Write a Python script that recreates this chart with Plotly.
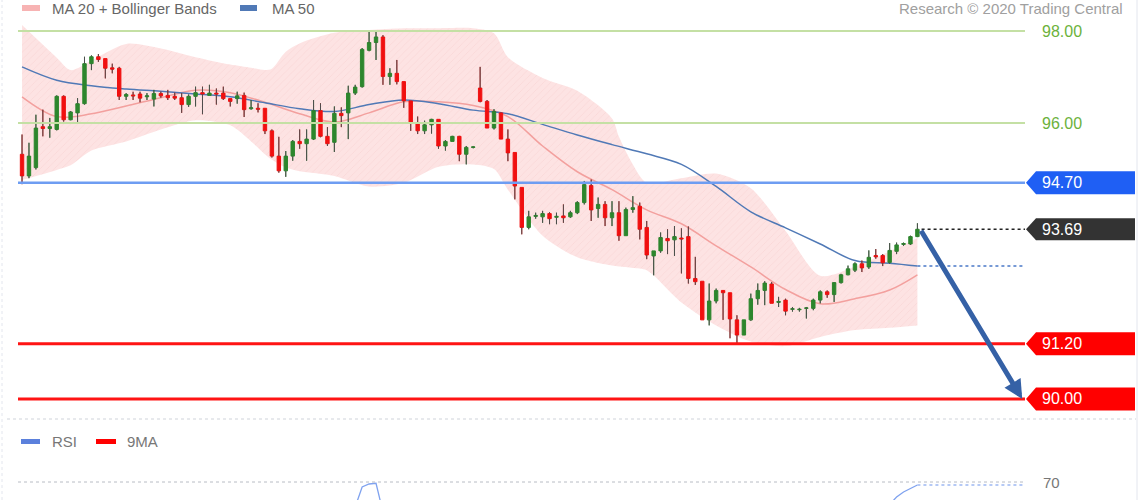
import plotly.graph_objects as go

# ---------------- data ----------------
opens = [95.32, 94.85, 95.03, 95.92, 95.88, 95.86, 96.58, 96.07, 96.22, 96.42,
         97.29, 97.44, 97.40, 97.20, 97.19, 96.58, 96.61, 96.63, 96.57, 96.52,
         96.64, 96.60, 96.58, 96.55, 96.40, 96.58, 96.66, 96.60, 96.65, 96.65,
         96.53, 96.53, 96.60, 96.31, 96.32, 96.32, 95.83, 95.28, 94.96, 95.28,
         95.60, 95.55, 95.65, 96.27, 95.71, 95.58, 96.21, 96.22, 96.65, 96.79,
         97.58, 97.75, 97.87, 97.01, 97.08, 96.90, 96.48, 96.00, 95.83, 95.96,
         96.08, 95.50, 95.60, 95.71, 95.32, 95.47, 96.76, 96.47, 95.89, 96.22,
         95.65, 95.36, 94.60, 93.73, 93.97, 93.96, 94.03, 93.95, 93.98, 93.96,
         94.05, 94.27, 94.64, 94.14, 94.23, 93.94, 94.05, 93.55, 94.12, 94.19,
         93.73, 93.11, 93.22, 93.49, 93.46, 93.50, 93.53, 92.62, 92.56, 91.72,
         92.13, 92.36, 92.31, 91.72, 91.39, 91.72, 92.18, 92.36, 92.50, 92.10,
         92.15, 91.95, 91.94, 91.97, 91.97, 92.15, 92.33, 92.27, 92.53, 92.70,
         92.80, 92.94, 92.87, 93.12, 93.12, 92.97, 93.21, 93.36, 93.37, 93.53]
highs = [95.75, 95.57, 96.18, 96.29, 96.11, 96.60, 96.60, 96.26, 96.54, 97.44,
         97.47, 97.50, 97.40, 97.29, 97.22, 96.65, 96.68, 96.68, 96.65, 96.72,
         96.68, 96.72, 96.66, 96.65, 96.62, 96.79, 96.79, 96.83, 96.75, 96.79,
         96.53, 96.68, 96.66, 96.50, 96.43, 96.32, 95.86, 95.70, 95.39, 95.63,
         95.86, 95.86, 96.50, 96.43, 95.91, 96.36, 96.34, 96.81, 96.83, 97.63,
         98.00, 98.00, 97.91, 97.19, 97.37, 96.90, 96.48, 96.14, 96.05, 96.09,
         96.08, 95.63, 95.72, 95.72, 95.50, 95.49, 97.22, 96.50, 96.30, 96.23,
         95.86, 95.36, 94.60, 94.09, 94.05, 94.09, 94.06, 94.05, 94.23, 94.09,
         94.30, 94.74, 94.77, 94.38, 94.30, 94.30, 94.30, 94.16, 94.41, 94.27,
         93.87, 93.22, 93.62, 93.69, 93.76, 93.71, 93.75, 93.09, 92.56, 92.51,
         92.40, 92.36, 92.31, 91.82, 91.72, 92.29, 92.51, 92.56, 92.54, 92.22,
         92.18, 92.00, 91.98, 92.00, 92.18, 92.36, 92.36, 92.54, 92.72, 92.90,
         92.97, 93.01, 93.23, 93.26, 93.15, 93.39, 93.40, 93.40, 93.55, 93.82]
lows = [94.67, 94.80, 94.99, 95.71, 95.68, 95.84, 96.03, 96.06, 96.02, 96.40,
        97.15, 97.33, 96.97, 97.08, 96.50, 96.50, 96.50, 96.45, 96.50, 96.36,
        96.55, 96.50, 96.50, 96.22, 96.35, 96.36, 96.19, 96.60, 96.40, 96.50,
        96.36, 96.42, 96.13, 96.29, 96.23, 95.76, 95.25, 94.92, 94.83, 95.18,
        95.44, 95.18, 95.63, 95.69, 95.50, 95.37, 95.91, 95.65, 96.61, 96.77,
        97.56, 97.37, 96.83, 96.83, 96.84, 96.33, 95.83, 95.76, 95.76, 95.77,
        95.44, 95.40, 95.60, 95.17, 95.10, 95.45, 96.45, 95.89, 95.86, 95.65,
        95.17, 94.34, 93.58, 93.69, 93.92, 93.83, 93.80, 93.80, 93.83, 93.94,
        94.02, 94.23, 93.87, 93.94, 93.76, 93.76, 93.44, 93.55, 94.05, 93.47,
        93.04, 92.69, 93.18, 93.15, 93.11, 92.73, 92.51, 92.48, 91.72, 91.60,
        92.08, 91.72, 91.32, 91.21, 91.39, 91.70, 92.05, 92.04, 92.08, 92.00,
        91.82, 91.90, 91.90, 91.75, 91.93, 92.08, 92.20, 92.11, 92.51, 92.69,
        92.76, 92.76, 92.83, 93.05, 92.89, 92.94, 93.15, 93.33, 93.35, 93.52]
closes = [94.85, 95.28, 95.89, 95.88, 95.92, 96.58, 96.07, 96.24, 96.42, 97.29,
          97.44, 97.38, 97.19, 97.17, 96.58, 96.62, 96.59, 96.54, 96.59, 96.64,
          96.59, 96.55, 96.54, 96.40, 96.58, 96.66, 96.63, 96.65, 96.63, 96.53,
          96.47, 96.59, 96.29, 96.33, 96.30, 95.83, 95.28, 94.96, 95.28, 95.60,
          95.55, 95.65, 96.27, 95.71, 95.55, 96.21, 96.16, 96.65, 96.78, 97.60,
          97.75, 97.87, 97.01, 97.08, 96.90, 96.48, 96.00, 95.83, 95.96, 96.08,
          95.50, 95.60, 95.71, 95.32, 95.47, 95.48, 96.47, 95.89, 96.25, 95.65,
          95.35, 94.63, 93.73, 93.96, 93.99, 94.03, 93.92, 93.97, 93.94, 94.05,
          94.27, 94.66, 94.11, 94.23, 93.94, 94.05, 93.55, 94.12, 94.16, 93.69,
          93.13, 93.22, 93.51, 93.44, 93.53, 93.48, 92.62, 92.55, 91.72, 92.13,
          92.36, 92.31, 91.74, 91.39, 91.72, 92.18, 92.36, 92.52, 92.08, 92.12,
          91.91, 91.96, 91.95, 91.98, 92.15, 92.33, 92.27, 92.53, 92.70, 92.83,
          92.94, 92.85, 93.08, 93.09, 92.96, 93.23, 93.35, 93.38, 93.53, 93.69]
candle_idx = list(range(len(closes)))

ma20_idx = [0, 5, 10, 15, 20, 25, 30, 35, 40, 45, 50, 55, 60, 65, 70, 75, 80,
            85, 90, 95, 100, 105, 110, 115, 120, 125, 129]
ma20 = [96.57, 96.14, 96.20, 96.37, 96.55, 96.71, 96.66, 96.45, 96.20, 96.02,
        96.22, 96.46, 96.46, 96.38, 96.14, 95.50, 94.94, 94.55, 94.11, 93.81,
        93.33, 92.87, 92.38, 92.07, 92.18, 92.37, 92.70]
ma50_idx = ma20_idx
ma50 = [97.22, 96.93, 96.81, 96.74, 96.69, 96.63, 96.57, 96.44, 96.31, 96.25,
        96.40, 96.50, 96.42, 96.28, 96.20, 95.97, 95.74, 95.53, 95.33, 95.10,
        94.62, 94.07, 93.72, 93.37, 93.01, 92.95, 92.89]

bb_idx = [0, 5, 7, 10, 15, 20, 25, 30, 33, 35, 36, 38, 40, 45, 50, 55, 60, 65,
          68, 70, 75, 80, 85, 86, 88, 90, 95, 100, 105, 110, 115, 120, 125, 129]
bb_upper = [98.13, 97.42, 97.15, 97.36, 97.72, 97.62, 97.43, 97.27, 97.20, 97.15,
            97.18, 97.55, 97.73, 97.96, 98.02, 98.06, 98.06, 98.06, 97.95, 97.43,
            96.98, 96.70, 96.10, 95.70, 95.10, 94.70, 94.80, 94.90, 94.58, 93.65,
            92.68, 92.88, 93.21, 93.50]
bb_lower = [94.76, 94.98, 95.08, 95.40, 95.60, 95.86, 96.06, 95.95, 95.60, 95.32,
            95.20, 95.03, 94.95, 94.85, 94.62, 94.70, 95.05, 95.10, 95.00, 94.55,
            93.55, 93.08, 92.90, 92.88, 92.85, 92.80, 92.10, 91.60, 91.25, 91.15,
            91.35, 91.50, 91.55, 91.60]

rsi_idx = [47, 48, 49, 50, 51, 52, 53, None, 124, 125, 126, 127, 128, 129]
rsi_val = [55.0, 60.0, 68.0, 69.2, 69.5, 58.0, 57.0, None, 58.0, 61.0, 64.0, 66.0, 67.5, 68.8]
rsi_level = 70

level_values = [98.00, 96.00, 94.70, 91.20, 90.00]
level_kinds = ["minor", "minor", "pivot", "target", "target"]

# ---------------- styling ----------------
FONT = "Liberation Sans, Arial, sans-serif"
X0, X1 = -0.58, 144.5
PRICE_RANGE = [89.565, 98.674]
RSI_RANGE = [62.8, 90.8]
W, H, ML, MR = 1140, 500, 18, 115
PW = W - ML - MR


def px_x(p):
    return (p - ML) / PW


def px_y(p):
    return (H - p) / H


kind_style = {
    "minor": dict(line="#c4e0a4", width=2, box=None, text="#6cb23c"),
    "pivot": dict(line="#6e9df2", width=2.5, box="#1f5ff4", text="white"),
    "target": dict(line="#ff1414", width=3, box="#ff0000", text="white"),
}

fig = go.Figure()

# Bollinger band (upper edge, then lower edge filled up to it)
fig.add_trace(go.Scatter(x=bb_idx, y=bb_upper, mode="lines", line_shape="spline",
                         line=dict(width=0, smoothing=0.8), hoverinfo="skip",
                         xaxis="x", yaxis="y"))
fig.add_trace(go.Scatter(x=bb_idx, y=bb_lower, mode="lines", line_shape="spline",
                         line=dict(width=0, smoothing=0.8), hoverinfo="skip",
                         fill="tonexty", fillcolor="rgba(250,170,170,0.32)",
                         fillpattern=dict(shape="/", bgcolor="rgba(250,170,170,0.32)",
                                          fgcolor="rgba(235,150,150,0.35)", size=5,
                                          solidity=0.12),
                         xaxis="x", yaxis="y"))
# MA lines
fig.add_trace(go.Scatter(x=ma20_idx, y=ma20, mode="lines", line_shape="spline",
                         line=dict(color="#f3a09e", width=1.5), xaxis="x", yaxis="y"))
fig.add_trace(go.Scatter(x=ma50_idx, y=ma50, mode="lines", line_shape="spline",
                         line=dict(color="#5079b6", width=1.5), xaxis="x", yaxis="y"))

# candles on overlaid axis so they sit above the band
fig.add_trace(go.Candlestick(
    x=candle_idx, open=opens, high=highs, low=lows, close=closes,
    increasing=dict(fillcolor="#2d862d", line=dict(color="#2d862d", width=1)),
    decreasing=dict(fillcolor="#f01010", line=dict(color="#f01010", width=1)),
    xaxis="x", yaxis="y2", hoverinfo="skip"))

wx, wy = [], []
for i, o, h, l, c in zip(candle_idx, opens, highs, lows, closes):
    top, bot = max(o, c), min(o, c)
    wx += [i, i, None, i, i, None]
    wy += [h, top, None, bot, l, None]
fig.add_trace(go.Scatter(x=wx, y=wy, mode="lines", line=dict(color="#4d4d4d", width=1),
                         xaxis="x", yaxis="y2", hoverinfo="skip"))

last_i = candle_idx[-1]
last_close = closes[-1]
# dotted extensions
fig.add_trace(go.Scatter(x=[last_i + 0.6, X1], y=[last_close, last_close], mode="lines",
                         line=dict(color="#222222", width=1.5, dash="dot"),
                         xaxis="x", yaxis="y2"))
fig.add_trace(go.Scatter(x=[ma50_idx[-1], X1], y=[ma50[-1], ma50[-1]], mode="lines",
                         line=dict(color="#4a78c8", width=1.5, dash="dot"),
                         xaxis="x", yaxis="y2"))

# RSI panel
fig.add_trace(go.Scatter(x=rsi_idx, y=rsi_val, mode="lines",
                         line=dict(color="#7fa2ef", width=1.3), connectgaps=False,
                         xaxis="x2", yaxis="y3"))
fig.add_trace(go.Scatter(x=[rsi_idx[-1], X1], y=[rsi_val[-1], rsi_val[-1]], mode="lines",
                         line=dict(color="#9db8f2", width=1.5, dash="dot"),
                         xaxis="x2", yaxis="y3"))

shapes = []
annotations = []
for v, k in zip(level_values, level_kinds):
    st = kind_style[k]
    shapes.append(dict(type="line", xref="paper", yref="y", x0=0, x1=1, y0=v, y1=v,
                       line=dict(color=st["line"], width=st["width"])))
    annotations.append(dict(xref="paper", yref="y", x=px_x(1040), y=v, text=f"{v:.2f}",
                            showarrow=False, xanchor="left", yanchor="middle",
                            font=dict(family=FONT, size=16, color=st["text"])))
    if st["box"]:
        shapes.append(dict(type="path", xref="paper", yref="y", layer="above",
                           path=(f"M{px_x(1026)},{v} L{px_x(1036)},{v + 0.25} "
                                 f"L{px_x(1135)},{v + 0.25} L{px_x(1135)},{v - 0.25} "
                                 f"L{px_x(1036)},{v - 0.25} Z"),
                           fillcolor=st["box"], line=dict(width=0)))

# last price box
shapes.append(dict(type="path", xref="paper", yref="y", layer="above",
                   path=(f"M{px_x(1026)},{last_close} L{px_x(1036)},{last_close + 0.24} "
                         f"L{px_x(1135)},{last_close + 0.24} L{px_x(1135)},{last_close - 0.24} "
                         f"L{px_x(1036)},{last_close - 0.24} Z"),
                   fillcolor="#333333", line=dict(width=0)))
annotations.append(dict(xref="paper", yref="y", x=px_x(1040), y=last_close,
                        text=f"{last_close:.2f}", showarrow=False, xanchor="left",
                        yanchor="middle", font=dict(family=FONT, size=16, color="white")))

# forecast arrow
annotations.append(dict(xref="x", yref="y", axref="x", ayref="y",
                        x=X1 - 0.4, y=level_values[-1], ax=last_i + 0.4, ay=last_close,
                        text="", showarrow=True, arrowhead=2, arrowsize=0.75,
                        arrowwidth=5, arrowcolor="#3561a6"))

# panel separator, borders
shapes.append(dict(type="line", xref="paper", yref="paper", x0=px_x(7), x1=px_x(1136),
                   y0=px_y(419), y1=px_y(419), line=dict(color="#cfd3da", width=1, dash="dot")))
shapes.append(dict(type="line", xref="paper", yref="paper", x0=px_x(2), x1=px_x(2),
                   y0=0, y1=1, line=dict(color="#e3e6ee", width=1, dash="dot")))
shapes.append(dict(type="line", xref="paper", yref="paper", x0=px_x(1137), x1=px_x(1137),
                   y0=0, y1=1, line=dict(color="#e3e6ee", width=1)))
# RSI 70 line
shapes.append(dict(type="line", xref="paper", yref="y3", x0=0, x1=1, y0=rsi_level,
                   y1=rsi_level, line=dict(color="#b8bcc4", width=1, dash="dot")))
annotations.append(dict(xref="paper", yref="y3", x=px_x(1041), y=rsi_level, text=str(rsi_level),
                        showarrow=False, xanchor="left", yanchor="middle",
                        font=dict(family=FONT, size=15, color="#777777")))

# top legend and credit (kept fully inside the frame)
TOP_Y = px_y(8)
shapes.append(dict(type="rect", xref="paper", yref="paper", x0=px_x(22), x1=px_x(40),
                   y0=px_y(11), y1=px_y(5), fillcolor="#f7b3b3", line=dict(width=0)))
shapes.append(dict(type="rect", xref="paper", yref="paper", x0=px_x(240), x1=px_x(257),
                   y0=px_y(11), y1=px_y(5), fillcolor="#5079b6", line=dict(width=0)))
annotations.append(dict(xref="paper", yref="paper", x=px_x(50), y=TOP_Y,
                        text="MA 20 + Bollinger Bands", showarrow=False, xanchor="left",
                        yanchor="middle", font=dict(family=FONT, size=15, color="#666666")))
annotations.append(dict(xref="paper", yref="paper", x=px_x(270), y=TOP_Y,
                        text="MA 50", showarrow=False, xanchor="left",
                        yanchor="middle", font=dict(family=FONT, size=15, color="#666666")))
annotations.append(dict(xref="paper", yref="paper", x=px_x(1125), y=TOP_Y,
                        text="Research © 2020 Trading Central", showarrow=False,
                        xanchor="right", yanchor="middle",
                        font=dict(family=FONT, size=15, color="#a0a0a0")))

# RSI legend
shapes.append(dict(type="rect", xref="paper", yref="paper", x0=px_x(21), x1=px_x(40),
                   y0=px_y(444), y1=px_y(439), fillcolor="#5b80dc", line=dict(width=0)))
shapes.append(dict(type="rect", xref="paper", yref="paper", x0=px_x(96), x1=px_x(116),
                   y0=px_y(444), y1=px_y(439), fillcolor="#ff0000", line=dict(width=0)))
annotations.append(dict(xref="paper", yref="paper", x=px_x(50), y=px_y(441.5), text="RSI",
                        showarrow=False, xanchor="left", yanchor="middle",
                        font=dict(family=FONT, size=15, color="#777777")))
annotations.append(dict(xref="paper", yref="paper", x=px_x(125), y=px_y(441.5), text="9MA",
                        showarrow=False, xanchor="left", yanchor="middle",
                        font=dict(family=FONT, size=15, color="#777777")))

fig.update_layout(
    width=W, height=H, margin=dict(l=ML, r=MR, t=0, b=0, pad=0),
    paper_bgcolor="white", plot_bgcolor="white", showlegend=False, hovermode=False,
    xaxis=dict(domain=[0, 1], range=[X0, X1], visible=False, anchor="y",
               rangeslider=dict(visible=False)),
    yaxis=dict(domain=[px_y(419), 1], range=PRICE_RANGE, visible=False, anchor="x"),
    yaxis2=dict(overlaying="y", range=PRICE_RANGE, visible=False, anchor="x"),
    xaxis2=dict(domain=[0, 1], range=[X0, X1], visible=False, anchor="y3"),
    yaxis3=dict(domain=[0, 0.14], range=RSI_RANGE, visible=False, anchor="x2"),
    shapes=shapes, annotations=annotations,
)

fig.write_html("out.html", config={"displayModeBar": False},
               post_script="document.body.style.margin='0';")
